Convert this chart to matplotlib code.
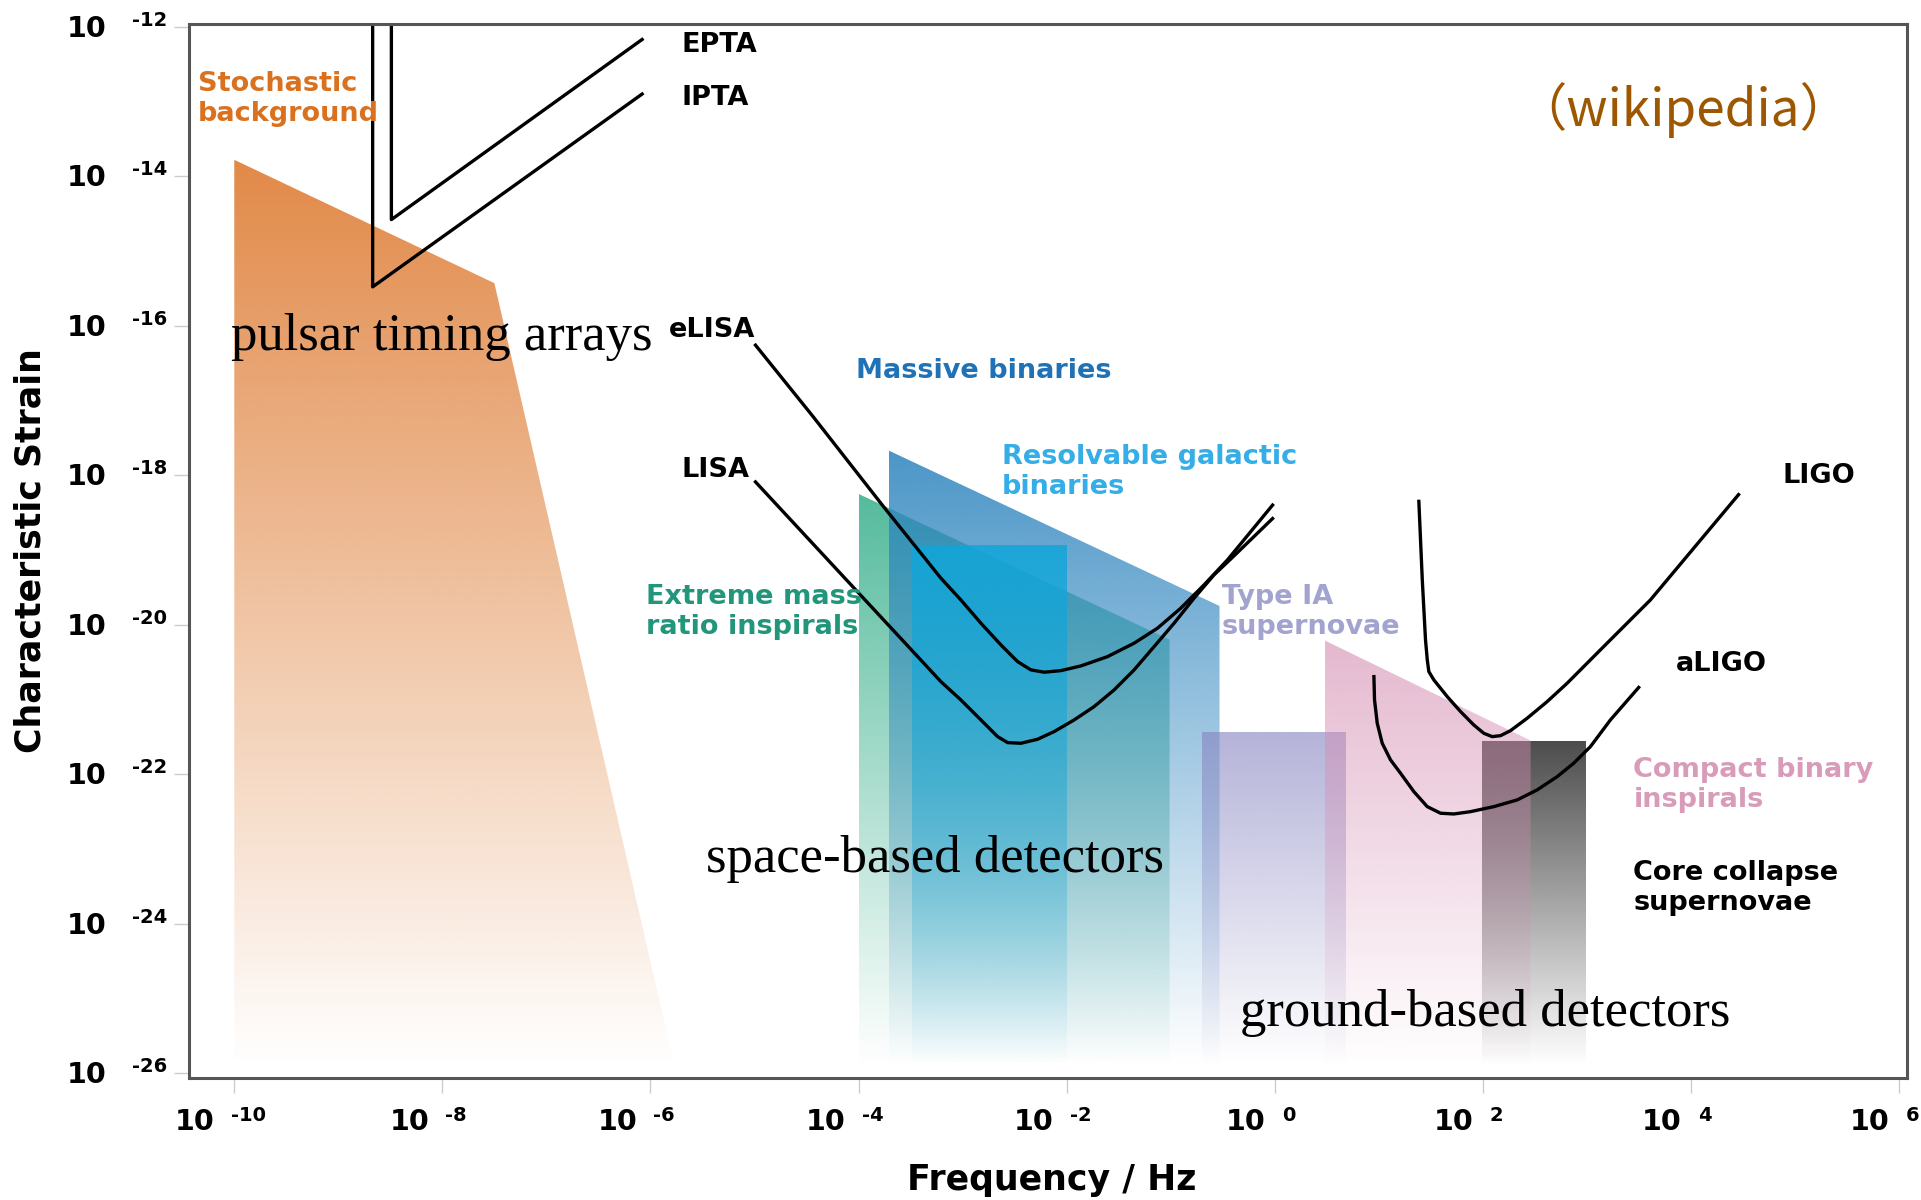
import matplotlib
matplotlib.use('Agg')
import matplotlib.pyplot as plt
import numpy as np
from matplotlib.patches import Polygon
from matplotlib.colors import to_rgb

# everything is in log10 units: x = log10(f / Hz), y = log10(characteristic strain)
x_ticks = [-10, -8, -6, -4, -2, 0, 2, 4, 6]
y_ticks = [-12, -14, -16, -18, -20, -22, -24, -26]

# source regions
stoch_f = [-10.0, -10.0, -7.50, -5.77]
stoch_h = [-25.9, -13.78, -15.43, -25.9]
emri_f = [-4.0, -4.0, -1.01, -1.01]
emri_h = [-25.9, -18.25, -20.2, -25.9]
massive_f = [-3.71, -3.71, -0.53, -0.53]
massive_h = [-25.9, -17.67, -19.75, -25.9]
galactic_f = [-3.49, -3.49, -2.0, -2.0]
galactic_h = [-25.9, -18.93, -18.93, -25.9]
typeia_f = [-0.70, -0.70, 0.69, 0.69]
typeia_h = [-25.9, -21.43, -21.43, -25.9]
cbc_f = [0.48, 0.48, 2.46, 2.46]
cbc_h = [-25.9, -20.21, -21.55, -25.9]
ccsn_f = [1.99, 1.99, 2.99, 2.99]
ccsn_h = [-25.9, -21.56, -21.56, -25.9]

# detector sensitivity curves
epta_f = [-8.49, -8.49, -6.08]
epta_h = [-11.97, -14.58, -12.17]
ipta_f = [-8.67, -8.67, -6.08]
ipta_h = [-11.97, -15.48, -12.90]
elisa_f = [-4.99, -4.44, -3.76, -3.208, -3.016, -2.823, -2.631, -2.471, -2.343, -2.215, -2.055,
           -1.863, -1.607, -1.351, -1.127, -0.903, -0.679, -0.454, -0.02]
elisa_h = [-16.26, -17.21, -18.42, -19.378, -19.669, -19.981, -20.271, -20.494, -20.605, -20.636,
           -20.615, -20.552, -20.428, -20.248, -20.048, -19.780, -19.468, -19.134, -18.40]
lisa_f = [-4.99, -3.208, -3.016, -2.823, -2.663, -2.567, -2.439, -2.279, -2.120, -1.928,
          -1.736, -1.543, -1.351, -1.159, -0.967, -0.775, -0.583, -0.391, -0.02]
lisa_h = [-18.09, -20.762, -21.007, -21.275, -21.498, -21.578, -21.587, -21.533, -21.431,
          -21.275, -21.097, -20.873, -20.605, -20.294, -19.981, -19.646, -19.334, -19.08, -18.58]
ligo_f = [1.386, 1.419, 1.450, 1.467, 1.482, 1.530, 1.659, 1.787, 1.914, 2.010, 2.091, 2.171,
          2.267, 2.427, 2.619, 2.811, 3.003, 3.195, 3.611, 4.459]
ligo_h = [-18.35, -19.40, -20.204, -20.472, -20.628, -20.739, -20.963, -21.163, -21.342, -21.453,
          -21.498, -21.485, -21.418, -21.252, -21.030, -20.784, -20.516, -20.248, -19.67, -18.26]
aligo_f = [0.954, 0.960, 0.986, 1.034, 1.114, 1.210, 1.338, 1.467, 1.595, 1.722, 1.882, 2.106,
           2.331, 2.523, 2.715, 2.874, 3.035, 3.227, 3.499]
aligo_h = [-20.695, -21.007, -21.319, -21.587, -21.810, -21.988, -22.234, -22.435, -22.523, -22.533,
           -22.502, -22.435, -22.345, -22.211, -22.034, -21.854, -21.632, -21.275, -20.84]


def grad_fill(ax, xs, ys, color, a_top, z):
    poly = Polygon(np.column_stack([xs, ys]), closed=True, facecolor='none', edgecolor='none')
    ax.add_patch(poly)
    rgb = to_rgb(color)
    img = np.zeros((256, 1, 4))
    img[:, 0, :3] = rgb
    img[:, 0, 3] = np.linspace(0, a_top, 256)
    im = ax.imshow(img, extent=[min(xs), max(xs), min(ys), max(ys)], origin='lower',
                   aspect='auto', interpolation='bilinear', zorder=z)
    im.set_clip_path(poly)


fig = plt.figure(figsize=(19.21, 12), dpi=100)
ax = fig.add_axes([0.0984, 0.1014, 0.8942, 0.8784])

grad_fill(ax, stoch_f, stoch_h, '#df7f38', 0.92, 1)
grad_fill(ax, emri_f, emri_h, '#2aaa84', 0.8, 1.1)
grad_fill(ax, massive_f, massive_h, '#2b83be', 0.85, 1.2)
grad_fill(ax, galactic_f, galactic_h, '#10a6da', 0.85, 1.3)
grad_fill(ax, typeia_f, typeia_h, '#8784c1', 0.62, 1.4)
grad_fill(ax, ccsn_f, ccsn_h, '#1a1a1a', 0.78, 1.5)
grad_fill(ax, cbc_f, cbc_h, '#d58db2', 0.62, 1.6)

for fx, hy in [(epta_f, epta_h), (ipta_f, ipta_h), (elisa_f, elisa_h), (lisa_f, lisa_h),
               (ligo_f, ligo_h), (aligo_f, aligo_h)]:
    ax.plot(fx, hy, color='black', lw=2.4, zorder=3, solid_joinstyle='round')

ax.set_xlim(-10.435, 6.076)
ax.set_ylim(-26.07, -11.966)
ax.set_xticks(x_ticks)
ax.set_yticks(y_ticks)
ax.tick_params(direction='out', length=11, width=1, color='#cccccc',
               labelbottom=False, labelleft=False)
for s in ax.spines.values():
    s.set_color('#555555')
    s.set_linewidth(2.2)
    s.set_zorder(5)

bold = dict(fontweight='bold', family='DejaVu Sans', fontsize=19.5, va='center', zorder=4)
two = dict(linespacing=1.2, **bold)
ax.text(-10.35, -12.96, 'Stochastic\nbackground', color='#d9711f', **two)
ax.text(-5.706, -12.24, 'EPTA', color='black', **bold)
ax.text(-5.706, -12.95, 'IPTA', color='black', **bold)
ax.text(-5.82, -16.06, 'eLISA', color='black', **bold)
ax.text(-5.706, -17.93, 'LISA', color='black', **bold)
ax.text(-4.024, -16.60, 'Massive binaries', color='#1f72b5', **bold)
ax.text(-2.624, -17.96, 'Resolvable galactic\nbinaries', color='#35ade6', **two)
ax.text(-6.047, -19.83, 'Extreme mass\nratio inspirals', color='#22967a', **two)
ax.text(-0.506, -19.83, 'Type IA\nsupernovae', color='#a3a3d0', **two)
ax.text(4.882, -18.01, 'LIGO', color='black', **bold)
ax.text(3.859, -20.52, 'aLIGO', color='black', **bold)
ax.text(3.447, -22.14, 'Compact binary\ninspirals', color='#d99bba', **two)
ax.text(3.447, -23.53, 'Core collapse\nsupernovae', color='black', **two)

serif = dict(family='Liberation Serif', fontsize=38, color='black', va='center', zorder=4)
ax.text(-10.035, -16.15, 'pulsar timing arrays', **serif)
ax.text(-5.47, -23.13, 'space-based detectors', **serif)
ax.text(-0.329, -25.20, 'ground-based detectors', **serif)

fig.text(1683 / 1921, 1 - 110 / 1200, '（wikipedia）', fontsize=37, color='#9c5700',
         family=['Noto Sans CJK SC', 'DejaVu Sans'], ha='center', va='center')

# tick labels "10" with exponent
fig.canvas.draw()
renderer = fig.canvas.get_renderer()
for t in x_ticks:
    base = ax.annotate('10', xy=(t, 0), xycoords=('data', 'axes fraction'), xytext=(0, -52),
                       textcoords='offset pixels', ha='left', va='baseline', fontsize=20.5,
                       fontweight='bold', annotation_clip=False)
    sup = ax.annotate(str(t), xy=(t, 0), xycoords=('data', 'axes fraction'), xytext=(0, -43),
                      textcoords='offset pixels', ha='left', va='baseline', fontsize=14,
                      fontweight='bold', annotation_clip=False)
    w1 = base.get_window_extent(renderer).width
    w2 = sup.get_window_extent(renderer).width
    start = -14 - (w1 + 16 + w2) / 2
    base.xyann = (start, -52)
    sup.xyann = (start + w1 + 16, -43)

for t in y_ticks:
    ax.annotate('10', xy=(0, t), xycoords=('axes fraction', 'data'), xytext=(-83, -10),
                textcoords='offset pixels', ha='right', va='baseline', fontsize=20.5,
                fontweight='bold', annotation_clip=False)
    ax.annotate(str(t), xy=(0, t), xycoords=('axes fraction', 'data'), xytext=(-57, 1),
                textcoords='offset pixels', ha='left', va='baseline', fontsize=14,
                fontweight='bold', annotation_clip=False)

fig.text(30.6 / 1921, 1 - 551 / 1200, 'Characteristic Strain', rotation=90, fontsize=25,
         fontweight='bold', ha='center', va='center')
fig.text(1051.7 / 1921, 1 - 1180 / 1200, 'Frequency / Hz', fontsize=25,
         fontweight='bold', ha='center', va='center')

fig.savefig('out.png', dpi=100)
